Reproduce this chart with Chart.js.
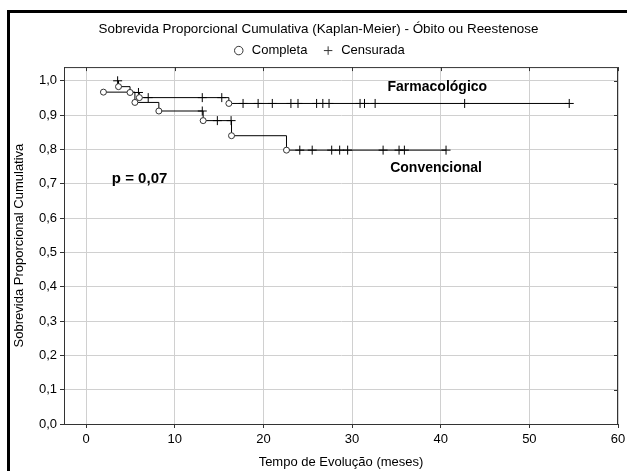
<!DOCTYPE html>
<html>
<head>
<meta charset="utf-8">
<script src="https://cdn.jsdelivr.net/npm/chart.js@4/dist/chart.umd.min.js"></script>
<style>
  html, body { margin: 0; padding: 0; background: #fff; overflow: hidden; }
  #frame { position: absolute; left: 7px; top: 10px; width: 700px; height: 700px;
           border-left: 3px solid #000; border-top: 3px solid #000; }
  #chart { position: absolute; left: 0; top: 0; }
</style>
</head>
<body>
<div id="frame"></div>
<canvas id="chart" width="627" height="471"></canvas>
<script>
// Farmacológico: time (months), survival, status (1 = completa, 0 = censurada)
var farmTimes  = [3.55, 3.65, 4.95, 5.9, 6.0, 7.0, 13.1, 15.3, 16.1, 17.7, 19.4, 21.0, 23.1, 23.9, 26.0, 26.7, 27.4, 30.9, 31.4, 32.6, 42.7, 54.5];
var farmSurv   = [1.0, 0.983, 0.966, 0.966, 0.951, 0.951, 0.951, 0.951, 0.934, 0.934, 0.934, 0.934, 0.934, 0.934, 0.934, 0.934, 0.934, 0.934, 0.934, 0.934, 0.934, 0.934];
var farmStatus = [0, 1, 1, 0, 1, 0, 0, 0, 1, 0, 0, 0, 0, 0, 0, 0, 0, 0, 0, 0, 0, 0];

// Convencional
var convTimes  = [1.95, 5.5, 8.2, 13.1, 13.2, 14.8, 16.35, 16.4, 22.6, 24.1, 25.5, 27.7, 28.6, 29.5, 33.5, 35.3, 35.9, 40.6];
var convSurv   = [0.967, 0.937, 0.912, 0.912, 0.884, 0.884, 0.884, 0.840, 0.798, 0.798, 0.798, 0.798, 0.798, 0.798, 0.798, 0.798, 0.798, 0.798];
var convStatus = [1, 1, 1, 0, 1, 0, 0, 1, 1, 0, 0, 0, 0, 0, 0, 0, 0, 0];

var xTicks = [0, 10, 20, 30, 40, 50, 60];
var yTicks = [0, 0.1, 0.2, 0.3, 0.4, 0.5, 0.6, 0.7, 0.8, 0.9, 1.0];

var legendLabels = ['Completa  ', 'Censurada'];

// text notes anchored in data units
var notes = [
    {text: 'Farmacológico', t: 34.0, s: 0.982, size: 14},
    {text: 'Convencional', t: 34.3, s: 0.745, size: 14},
    {text: 'p = 0,07', t: 2.9, s: 0.713, size: 15}
];

Chart.defaults.font.family = '"Liberation Sans", Arial, sans-serif';
Chart.defaults.color = '#000';

function toPoints(times, surv) {
    return times.map((t, i) => ({x: t, y: surv[i]}));
}

function makeDataset(label, times, surv, status) {
    return {
        label: label,
        data: toPoints(times, surv),
        stepped: 'before',
        borderColor: '#000',
        borderWidth: 1,
        fill: false,
        pointStyle: status.map(s => s ? 'circle' : 'cross'),
        pointRadius: status.map(s => s ? 3 : 4.5),
        pointBackgroundColor: '#fff',
        pointBorderColor: status.map(s => s ? '#333' : '#000'),
        pointBorderWidth: 1
    };
}

var frame = {
    id: 'frame',
    afterDraw: chart => {
        let {ctx, chartArea: a, scales: {x, y}} = chart;
        ctx.save();
        ctx.strokeStyle = '#333';
        ctx.lineWidth = 1;
        ctx.strokeRect(a.left + 0.5, a.top + 0.5, a.right - a.left - 1, a.bottom - a.top);
        ctx.beginPath();
        x.ticks.forEach(t => {
            let px = Math.round(x.getPixelForValue(t.value)) + 0.5;
            ctx.moveTo(px, a.top);
            ctx.lineTo(px, a.top + 4);
        });
        y.ticks.forEach(t => {
            let py = Math.round(y.getPixelForValue(t.value)) + 0.5;
            ctx.moveTo(a.right, py);
            ctx.lineTo(a.right - 4, py);
        });
        ctx.stroke();
        ctx.fillStyle = '#000';
        ctx.textBaseline = 'middle';
        notes.forEach(n => {
            ctx.font = 'bold ' + n.size + 'px "Liberation Sans", Arial, sans-serif';
            ctx.fillText(n.text, x.getPixelForValue(n.t), y.getPixelForValue(n.s));
        });
        ctx.restore();
    }
};

new Chart(document.getElementById('chart'), {
    type: 'line',
    data: {
        datasets: [
            makeDataset('Farmacológico', farmTimes, farmSurv, farmStatus),
            makeDataset('Convencional', convTimes, convSurv, convStatus)
        ]
    },
    plugins: [frame],
    options: {
        responsive: false,
        animation: false,
        layout: {padding: {top: 21, left: 10, right: 0, bottom: 0}},
        plugins: {
            tooltip: {enabled: false},
            title: {
                display: true,
                text: 'Sobrevida Proporcional Cumulativa (Kaplan-Meier) - Óbito ou Reestenose',
                font: {size: 13.4, weight: 'normal'},
                padding: {top: 0, bottom: 0}
            },
            legend: {
                display: true,
                onClick: null,
                labels: {
                    usePointStyle: true,
                    boxHeight: 6,
                    padding: 7,
                    font: {size: 13},
                    generateLabels: () => legendLabels.map((txt, i) => ({
                        text: txt,
                        pointStyle: i === 0 ? 'circle' : 'cross',
                        fillStyle: '#fff',
                        strokeStyle: '#333',
                        lineWidth: 1,
                        hidden: false
                    }))
                }
            }
        },
        scales: {
            x: {
                type: 'linear',
                min: -2.5,
                max: 60,
                afterBuildTicks: s => { s.ticks = xTicks.map(v => ({value: v})); },
                afterFit: s => { s.height = 47; s.paddingRight = 9; },
                border: {color: '#333', width: 1},
                grid: {color: '#d0d0d0', tickColor: '#333', tickLength: 4},
                ticks: {font: {size: 13}, padding: 4},
                title: {
                    display: true,
                    text: 'Tempo de Evolução (meses)',
                    font: {size: 13},
                    padding: {top: 0, bottom: 1}
                }
            },
            y: {
                min: 0,
                max: 1.04,
                afterBuildTicks: s => { s.ticks = yTicks.map(v => ({value: v})); },
                afterFit: s => { s.width = 54; },
                border: {color: '#333', width: 1},
                grid: {color: '#d0d0d0', tickColor: '#333', tickLength: 4},
                ticks: {
                    font: {size: 13},
                    padding: 3,
                    callback: v => v.toFixed(1).replace('.', ',')
                },
                title: {
                    display: true,
                    text: 'Sobrevida Proporcional Cumulativa',
                    font: {size: 13},
                    padding: {top: 2, bottom: 0}
                }
            }
        }
    }
});
</script>
</body>
</html>
